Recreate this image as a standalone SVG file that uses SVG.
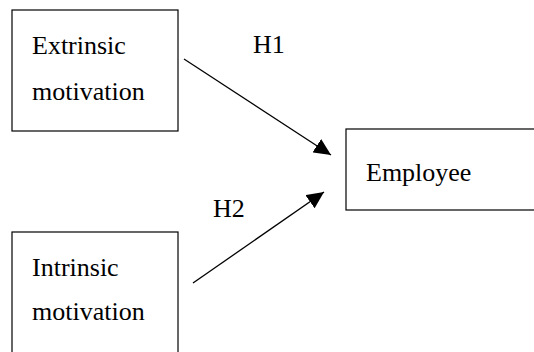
<svg xmlns="http://www.w3.org/2000/svg" width="534" height="352" viewBox="0 0 534 352">
<style>
.box{fill:#fff;stroke:#000;stroke-width:1.2}
.t{font-size:26px;fill:#000}
.c{stroke:#000;stroke-width:1.3;fill:none}
</style>
<defs>
<marker id="ah" markerUnits="userSpaceOnUse" markerWidth="18" markerHeight="16" refX="17" refY="8" orient="auto">
<path d="M0,0 L17,8 L0,16 Z" fill="#000"/>
</marker>
</defs>
<rect width="534" height="352" fill="#fff"/>
<g font-family="Liberation Serif, serif">
<g id="extrinsic">
<rect class="box" x="12" y="10" width="166" height="121"/>
<text class="t" x="32" y="54">Extrinsic</text>
<text class="t" x="32" y="100">motivation</text>
</g>
<g id="intrinsic">
<rect class="box" x="12" y="232" width="166" height="130"/>
<text class="t" x="32" y="276">Intrinsic</text>
<text class="t" x="32" y="320">motivation</text>
</g>
<g id="employee">
<rect class="box" x="346" y="129" width="200" height="81"/>
<text class="t" x="366" y="181">Employee</text>
</g>
<g id="connectors">
<line class="c" x1="184" y1="59" x2="331" y2="155" marker-end="url(#ah)"/>
<line class="c" x1="193" y1="283" x2="324" y2="192" marker-end="url(#ah)"/>
<text class="t" x="253" y="53">H1</text>
<text class="t" x="213" y="217">H2</text>
</g>
</g>
</svg>
